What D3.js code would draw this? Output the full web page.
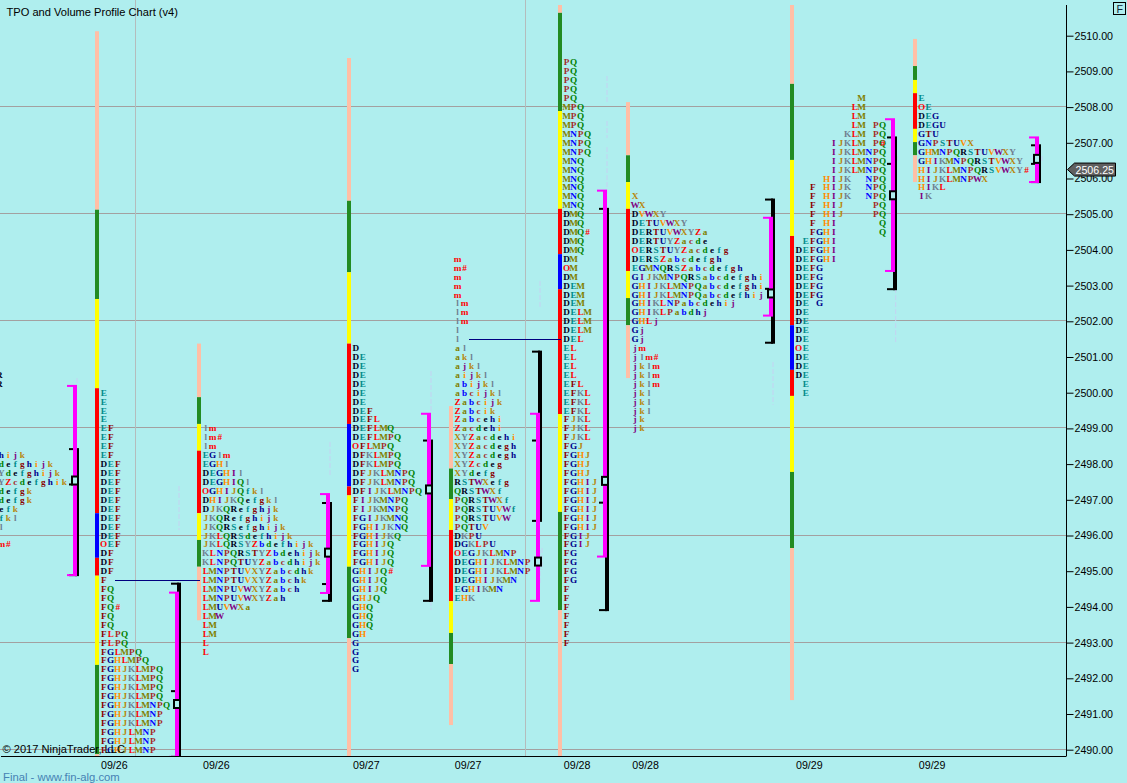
<!DOCTYPE html>
<html>
<head>
<meta charset="utf-8">
<script src="https://cdn.jsdelivr.net/npm/d3@7/dist/d3.min.js"></script>
<style>
html,body{margin:0;padding:0;background:#AFEEEE;overflow:hidden}
svg{display:block}
.tpo{font-family:"Liberation Serif",serif;font-weight:bold;font-size:9.2px;text-anchor:middle}
.lbl{font-family:"Liberation Sans",Arial,sans-serif;font-size:10.67px}
</style>
</head>
<body>
<script>
// ---------- data ----------
const priceTicks = d3.range(2490, 2511);
const gridPrices = [2508, 2505, 2502, 2499, 2496, 2493, 2490];
const lastPrice = 2506.25;
const title = "TPO and Volume Profile Chart (v4)";
const copyright = "\u00A9 2017 NinjaTrader, LLC";
const footer = "Final - www.fin-alg.com";
const dateLabels = ["09/26","09/26","09/27","09/27","09/28","09/28","09/29","09/29"];

// session clock of the horizontal axis (one slot per drawn minute column)
const sessionSlots = [100.2, 202.2, 352.2, 454, 563, 631.5, 795.2, 918];
const leftSessionSlot = -2.2;
const sessionBreakSlots = [135.5, 525.5];

// top row price of each profile, then rows of letters downward (quarter-point steps)
const topPrices = [2500, 2499, 2501.25, 2503.75, 2509.25, 2505.5, 2508.25, 2508.25];

const rowsA = ["E","E","E","E","EF","EF","EF","EF","DEF","DEF","DEF","DEF","DEF","DEF","DEF","DEF","DEF","OEF","DF","DF","DF","F","FQ","FQ","FQ#","FQ","FQ","FLPQ","FLPQ","FGLMPQ","FGHLMPQ","FGHJKLMPQ","FGHJKLMPQ","FGHJKLMPQ","FGHJKLMPQ","FGHJKLMNPQ","FGHJKLMNP","FGHJKLMNP","FGHJLMNP","FGHJLMNP","FGHJLMNP"];
const rowsB = ["lm","lm#","lm","EGlm","EGHl","DEGHIl","DEGHIQl","OGHIJQfkl","DHIJKQefgkl","DJKQRefghjk","JKQRefghijk","JKQRSefghijk","JKLQRSdefhijk","JKLQRSYZbdefhijk","KLNPQRSTYZbdehijk","KLNPQTUYZabcdhijk","LMNPTUVXYZabcdhk","LMNPTUVXYZabchk","LMNPUVWXYZabch","LMNPUVWXYZah","LMUVWXa","LMW","LM","LM","L","L"];
const rowsC = ["D","DE","DE","DE","DE","DE","DE","DEF","DEFL","DEFLMQ","DEFLMPQ","OFLMPQ","DFKLMPQ","DFKLMPQ","DFJKLMNPQ","DFJKLMNPQ","DFIJKLMNPQ","FIJKMNPQ","FIJKMNPQ","FGIJKMNQ","FGHIJKNQ","FGHIJKQ","FGHIJQ","FGHIJQ","FGHIJQ","GHIJQ#","GHIJQ","GHIJQ","GHJQ","GHQ","GHQ","GHQ","GH","G","G","G","G"];
const rowsD = ["m","m#","m","m","m","lm","lm","lm","l","l","al","akl","ajkl","aijkl","abijkl","abcijkl","Zabcijk","Zabcik","Zabcehi","Zacdehi","XYZacdehi","XYZacdegh","XYZacdegh","XYZcdeg","XYdefg","RSTWXefg","QRSTWXf","PQRSTWXf","PQRSTUVWf","PQRSTUVW","PQTUV","DKPU","DGKLPU","OEGJKLMNP","DEGHIJKLMNP","DEGHIJKLMNP","DEGHIJKMN","EGHIKMN","EHK"];
const rowsE = ["PQ","PQ","PQ","PQ","PQ","MPQ","MPQ","MPQ","MNPQ","MNPQ","MNPQ","MNQ","MNQ","MNQ","MNQ","MNQ","MNQ","DMQ","DMQ","DMQ#","DMQ","DMQ","DM","OM","DM","DEM","DEM","DEM","DELM","DELM","DELM","DEL","EL","EL","EL","EL","EFL","EFKL","EFKL","EFKL","FJKL","FJKL","FJKL","FGJ","FGHJ","FGHJ","FGHJ","FGHIJ","FGHIJ","FGHIJ","FGHIJ","FGHIJ","FGHIJ","FGIJ","FGIJ","FG","FG","FG","FG","F","F","F","F","F","F","F"];
const rowsF = ["X","WX","DVWXY","DETUVWXY","DERTUVWXYZa","DERTUYZacde","OERSTUYZacdefg","DERSZabcdefgh","EGMNQRSZabcdefgh","GIJKMNPQRSabcdefghi","GHIJKLMNPQabcdefghi","GHIJKLMNPQabcdefhij","GHIKLNPabcdehij","GHIKLPabdhj","GHLj","Gj","Gj","jm","jlm#","jklm","jklm","jklm","jkl","jkl","jkl","jk","jk"];
const rowsG = ["         M","        LM","        LM","        LM PQ","       KLM PQ","     IJKLM PQ","     IJKLMNPQ","     IJKLMNPQ","     IJKLMNPQ","    HIJK  NPQ","  F HIJK  NPQ","  F HIJK  NPQ","  F HIJ    PQ","  F HIJ    PQ","  F HI      Q","  FGHI      Q"," EFGHI","DEFGHI","DEFGHI","DEFG","DEFG","DEFG","DEFG","DE G","DE","DE","DE","DE","OE","DE","DE","DE"," E"," E"];
const rowsH = ["E","OE","DEG","DEGU","GTU","GNPSTUVX","GHMNPQRSTUVWXY","GHIKMNPQRSTVWXY","HIJKLMNPQRSVWXY#","HIJKLMNPWX","HIKL","IK"];
const profileRows = [rowsA, rowsB, rowsC, rowsD, rowsE, rowsF, rowsG, rowsH];

// the profile that runs off the left edge: [top price, rows]
const leftTopPrice = 2498.25;
const leftRows = ["hijk","defghijk","Ydefghijk","YZcdefghik","defgk","defgk","efk","fkl","l","","m#"];
const leftFragmentPrices = [2500.5, 2500.25];
const leftFragment = "R";
// letter printed on top of another one: [profile index, price, column, char]
const overlayMarks = [[6, 2507, 12, "#"]];

// colour bar next to each profile: price edges, top to bottom
const barSlots = [95, 197, 347, 449, 558, 626, 790, 913];
const barEdges = [
  [2510.125,2505.125,2502.625,2500.125,2496.625,2495.375,2494.875,2492.375,2489.875,2489.7],
  [2501.375,2499.875,2499.125,2498.375,2496.625,2495.875,2495.125,2493.625],
  [2509.375,2505.375,2503.375,2501.375,2499.125,2497.375,2497.125,2495.125,2493.125,2489.8],
  [2499.625,2497.875,2497.02,2496.155,2494.16,2493.27,2492.4,2490.69],
  [2510.86,2510.64,2507.89,2505.15,2503.88,2502.9,2499.4,2496.66,2493.91,2489.8],
  [2508.14,2506.65,2505.9,2505.15,2503.41,2502.65,2501.89,2500.41],
  [2510.86,2508.65,2506.52,2504.39,2501.89,2500.64,2499.91,2497.78,2495.65,2491.39],
  [2509.91,2509.15,2508.76,2508.39,2507.39,2507.02,2506.65,2505.9]
];

// value-area brackets: slot of magenta bar, magenta top/bottom, black top/bottom, POC box, extra tick
const bracketSlots = [73, 175, 326, 427, 536, 603, 769, 891, 1035];
const magentaTop = [2500.19,2494.40,2497.16,2499.41,2499.41,2505.66,2504.90,2507.66,2507.15];
const magentaBot = [2494.89,2489.8,2494.39,2495.15,2494.17,2495.41,2502.16,2503.41,2505.90];
const blackTop   = [2498.42,2494.65,2496.91,2498.66,2501.15,2505.15,2505.41,2507.15,2506.93];
const blackBot   = [2494.89,2489.8,2494.17,2494.17,2496.41,2493.91,2501.40,2502.90,2505.90];
const pocPrice   = [2497.54,2491.28,2495.52,2497.29,2495.27,2497.53,2502.78,2505.53,2506.55];
const extraTick  = [2497.43,2491.64,2494.64,null,2498.66,2496.92,2502.91,2506.41,2506.41];

// horizontal naked-POC links: [from slot, to slot, price]
const links = [[115,200,2494.74],[469,561,2501.5]];

// faint dashed traces: [slot, price, price]
const faint = [[77,2500.41,2500.21],[179,2497.39,2496.15],[330,2498.62,2497.64],[540,2503.13,2502.40],[431,2500.61,2499.43],[433,2495.37,2495.17],[431,2494.17,2493.91],[542,2495.65,2495.03],[540,2495.59,2494.67],[607,2508.87,2508.14],[607,2507.61,2507.13],[607,2506.88,2505.40],[773,2500.86,2499.66],[776,2503.16,2502.93],[895.7,2502.93,2501.39],[897.5,2506.63,2506.43],[1042,2506.63,2506.43]];

// ---------- palette ----------
const letterCycle = "DEFGHIJKLMNPQRSTUVWXYZabcdefghijklm";
const cycleColours = ["#000020","#008B8B","#8B0000","#00008B","#FF8C00","#800080","#B8860B","#708090","#FF0000","#808000","#0000FF","#A52A2A","#008000"];
const barFive = ["#FFBFA6","#228B22","#FFFF00","#FF0000","#0000FF","#FF0000","#FFFF00","#228B22","#FFBFA6"];
const barThree = ["#FFBFA6","#228B22","#FFFF00","#FF0000","#FFFF00","#228B22","#FFBFA6"];
function letterColour(c){
  if(c==="O"||c==="#") return "#FF0000";
  const i = letterCycle.indexOf(c);
  return i<0 ? "#000" : cycleColours[i % cycleColours.length];
}

// ---------- scales ----------
const W=1127,H=783,axisX=1066.5,plotBottom=756;
const x = d3.scaleLinear().domain([0,1066.5]).range([0,axisX]);
const y = d3.scaleLinear().domain([2490,2510]).range([749.7,35.7]);
const rowStep = 0.25, colStep = 7;

const svg = d3.select("body").append("svg").attr("width",W).attr("height",H);
svg.append("rect").attr("width",W).attr("height",H).attr("fill","#AFEEEE");
const defs = svg.append("defs");
defs.append("clipPath").attr("id","plot").append("rect").attr("x",0).attr("y",0).attr("width",axisX).attr("height",plotBottom);
const plot = svg.append("g").attr("clip-path","url(#plot)");

// grid
plot.selectAll(".hg").data(gridPrices).join("line").attr("x1",0).attr("x2",axisX)
  .attr("y1",d=>Math.round(y(d))-.5).attr("y2",d=>Math.round(y(d))-.5).attr("stroke","#A3A0A0");
plot.selectAll(".vg").data(sessionBreakSlots).join("line").attr("x1",d=>x(d)).attr("x2",d=>x(d))
  .attr("y1",0).attr("y2",plotBottom).attr("stroke","#B4BCBC");

// faint traces
plot.selectAll(".fa").data(faint).join("line").attr("x1",d=>x(d[0])).attr("x2",d=>x(d[0]))
  .attr("y1",d=>y(d[1])).attr("y2",d=>y(d[2])).attr("stroke","#C4D2F2").attr("stroke-dasharray","5 2");

// colour bars
barEdges.forEach((edges,i)=>{
  const cols = edges.length===10 ? barFive : barThree;
  plot.append("g").selectAll("rect").data(d3.pairs(edges)).join("rect")
    .attr("x",x(barSlots[i])).attr("width",x(barSlots[i]+4)-x(barSlots[i]))
    .attr("y",d=>y(d[0])).attr("height",d=>y(d[1])-y(d[0]))
    .attr("fill",(d,j)=>cols[j]);
});

// links
plot.selectAll(".lk").data(links).join("line").attr("x1",d=>x(d[0])).attr("x2",d=>x(d[1]))
  .attr("y1",d=>Math.round(y(d[2]))+.5).attr("y2",d=>Math.round(y(d[2]))+.5).attr("stroke","#000080");

// brackets
bracketSlots.forEach((s,i)=>{
  const g = plot.append("g");
  const black = "#000", mag = "#FF00FF";
  const rx=(a,b,t,h,f)=>g.append("rect").attr("x",x(a)).attr("width",x(b)-x(a)).attr("y",t).attr("height",h).attr("fill",f);
  rx(s+2,s+6,y(blackTop[i])-1,y(blackBot[i])-y(blackTop[i])+2,black);
  rx(s-4,s+4,y(blackTop[i])-1,2,black);
  rx(s-4,s+4,y(blackBot[i])-1,2,black);
  if(extraTick[i]!==null) rx(s-4,s,y(extraTick[i])-1,2,black);
  rx(s,s+4,y(magentaTop[i])-1,y(magentaBot[i])-y(magentaTop[i])+2,mag);
  rx(s-6,s,y(magentaTop[i])-1,2,mag);
  rx(s-6,s,y(magentaBot[i])-1,2,mag);
  g.append("rect").attr("x",x(s-2)+1).attr("width",x(s+6)-x(s-2)-2)
    .attr("y",y(pocPrice[i])-4).attr("height",8)
    .attr("fill","#AFEEEE").attr("stroke","#000").attr("stroke-width",2);
});

// letters: each letter is centred in its fixed-width column
function drawRow(parent,str,cx,cy){
  const cells = str.split("").map((c,k)=>({c,k})).filter(d=>d.c!==" ");
  const t = parent.append("text").attr("class","tpo").attr("y",cy);
  t.selectAll("tspan").data(cells).join("tspan")
    .attr("x",d=>cx+(d.k+.5)*colStep).attr("fill",d=>letterColour(d.c)).text(d=>d.c);
}
const letters = svg.append("g");
profileRows.forEach((rows,i)=>{
  rows.forEach((r,k)=>drawRow(letters,r,x(sessionSlots[i]),y(topPrices[i]-k*rowStep)+3));
});
leftRows.forEach((r,k)=>{ if(r) drawRow(letters,r,x(leftSessionSlot),y(leftTopPrice-k*rowStep)+3); });
leftFragmentPrices.forEach(p=>drawRow(letters,leftFragment,x(leftSessionSlot)-2,y(p)+3));
overlayMarks.forEach(m=>drawRow(letters,m[3],x(sessionSlots[m[0]])+m[2]*colStep,y(m[1])+3));

// bottom rule
svg.append("line").attr("x1",1).attr("x2",axisX).attr("y1",plotBottom+.5).attr("y2",plotBottom+.5).attr("stroke","#000");

// right axis
const axis = d3.axisRight(y).tickValues(priceTicks).tickFormat(d3.format(".2f")).tickSize(7).tickPadding(1);
const axG = svg.append("g").attr("transform",`translate(${axisX},0)`).call(axis);
axG.select(".domain").attr("d",`M0,5V${plotBottom}`).attr("stroke","#000");
axG.selectAll(".tick line").attr("stroke","#000");
axG.selectAll(".tick text").attr("class","lbl").attr("fill","#000");

// last price marker
const ly = y(lastPrice);
svg.append("path").attr("d",`M${axisX+1},${ly} L${axisX+8},${ly-6.5} H1115.5 V${ly+6.5} H${axisX+8} Z`)
  .attr("fill","#606060").attr("stroke","#000");
svg.append("text").attr("class","lbl").attr("x",1075.5).attr("y",ly+4).attr("fill","#fff").text(d3.format(".2f")(lastPrice));

// F box
svg.append("rect").attr("x",1113.5).attr("y",2.5).attr("width",12).attr("height",12).attr("fill","none").attr("stroke","#000");
svg.append("text").attr("class","lbl").attr("x",1116.5).attr("y",12.5).attr("fill","#123").text("F");

// date labels
svg.selectAll(".dl").data(dateLabels).join("text").attr("class","lbl")
  .attr("x",(d,i)=>x(sessionSlots[i])+.8).attr("y",769).attr("fill","#000").text(d=>d);

// captions
svg.append("text").attr("class","lbl").attr("x",6.5).attr("y",16).attr("fill","#000").style("font-size","11.1px").text(title);
svg.append("text").attr("class","lbl").attr("x",2.5).attr("y",753).attr("fill","#000").style("font-size","11.1px").text(copyright);
svg.append("text").attr("class","lbl").attr("x",3).attr("y",781).attr("fill","#4682B4").style("font-size","11.3px").text(footer);
</script>
</body>
</html>
